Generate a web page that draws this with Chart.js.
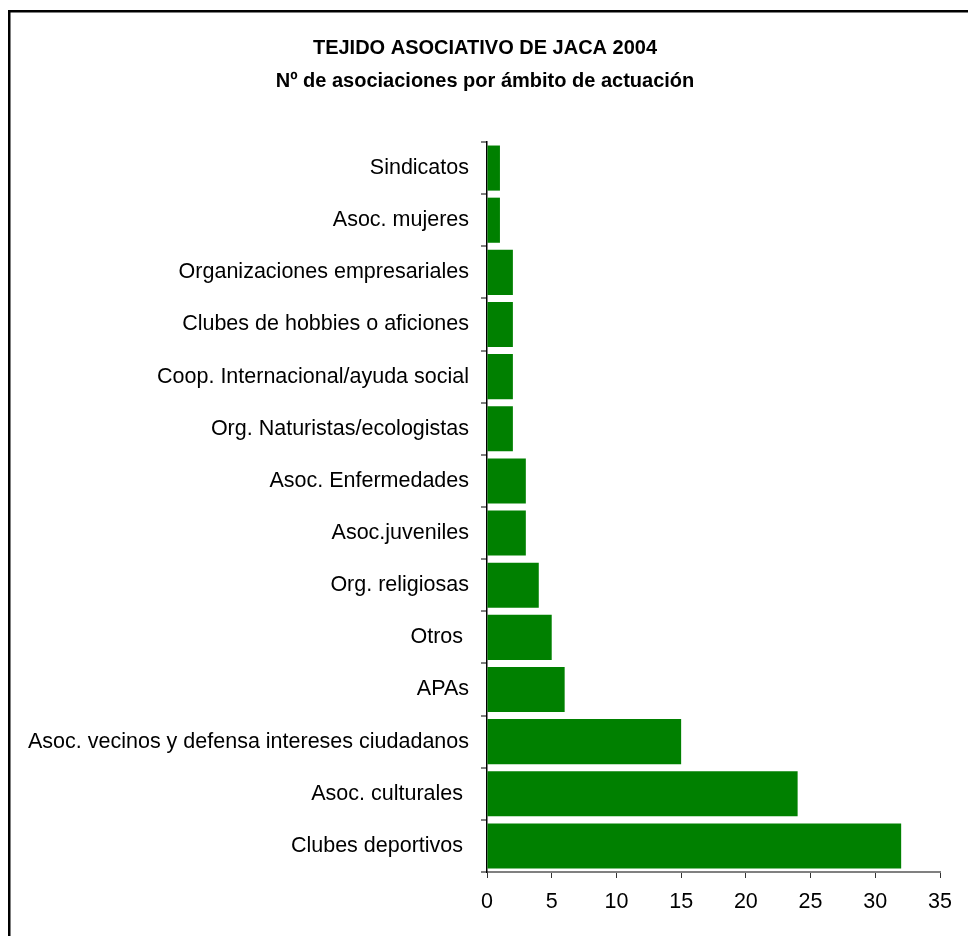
<!DOCTYPE html>
<html>
<head>
<meta charset="utf-8">
<script src="https://cdn.jsdelivr.net/npm/chart.js@4/dist/chart.umd.min.js"></script>
<style>
html,body{margin:0;padding:0;background:#fff;}
#wrap{width:968px;height:936px;position:relative;}
</style>
</head>
<body>
<div id="wrap"><canvas id="c" width="968" height="936"></canvas></div>
<script>
const categories = [
  "Sindicatos",
  "Asoc. mujeres",
  "Organizaciones empresariales",
  "Clubes de hobbies o aficiones",
  "Coop. Internacional/ayuda social",
  "Org. Naturistas/ecologistas",
  "Asoc. Enfermedades",
  "Asoc.juveniles",
  "Org. religiosas",
  "Otros ",
  "APAs",
  "Asoc. vecinos y defensa intereses ciudadanos",
  "Asoc. culturales ",
  "Clubes deportivos "
];
const values = [1, 1, 2, 2, 2, 2, 3, 3, 4, 5, 6, 15, 24, 32];
const titleLines = ["TEJIDO ASOCIATIVO DE JACA 2004", "Nº de asociaciones por ámbito de actuación"];
const xMin = 0, xMax = 35, xStep = 5;

const FONT = "'Liberation Sans', Arial, Helvetica, sans-serif";

const frame = {
  id: 'frame',
  afterLayout(chart) {
    // centre the title block on the reference position (x ≈ 485)
    if (chart.titleBlock) {
      chart.titleBlock.left += 30;
      chart.titleBlock.right += 0;
    }
  },
  beforeDraw(chart) {
    const ctx = chart.ctx;
    ctx.save();
    ctx.fillStyle = '#fff';
    ctx.fillRect(0, 0, chart.width, chart.height);
    ctx.strokeStyle = '#000';
    ctx.lineWidth = 2.5;
    ctx.strokeRect(9.25, 11.25, chart.width + 20, chart.height + 20);
    ctx.restore();
  }
};

new Chart(document.getElementById('c'), {
  type: 'bar',
  data: {
    labels: categories,
    datasets: [{
      data: values,
      backgroundColor: '#008000',
      borderWidth: 0,
      barPercentage: 0.865,
      categoryPercentage: 1.0
    }]
  },
  options: {
    indexAxis: 'y',
    responsive: false,
    animation: false,
    devicePixelRatio: 1,
    layout: { padding: { left: 0, right: 28, top: 0, bottom: 0 } },
    plugins: {
      legend: { display: false },
      tooltip: { enabled: false },
      title: {
        display: true,
        text: titleLines,
        color: '#000',
        font: { family: FONT, size: 20, weight: 'bold', lineHeight: '33px' },
        padding: { top: 32, bottom: 44 }
      }
    },
    scales: {
      x: {
        type: 'linear',
        min: xMin,
        max: xMax,
        ticks: { stepSize: xStep, color: '#000', padding: 11, font: { family: FONT, size: 21.5 } },
        grid: { drawOnChartArea: false, drawTicks: true, tickLength: 6, color: '#333', lineWidth: 1 },
        border: { display: true, color: '#808080', width: 2 },
        afterFit(scale) { scale.height = 64; }
      },
      y: {
        type: 'category',
        ticks: { color: '#000', padding: 12, font: { family: FONT, size: 21.5 } },
        grid: { drawOnChartArea: false, drawTicks: true, tickLength: 6, color: '#808080', lineWidth: 2, offset: true },
        border: { display: true, color: '#000', width: 1.5 },
        afterFit(scale) { scale.width = 487; }
      }
    }
  },
  plugins: [frame]
});
</script>
</body>
</html>
